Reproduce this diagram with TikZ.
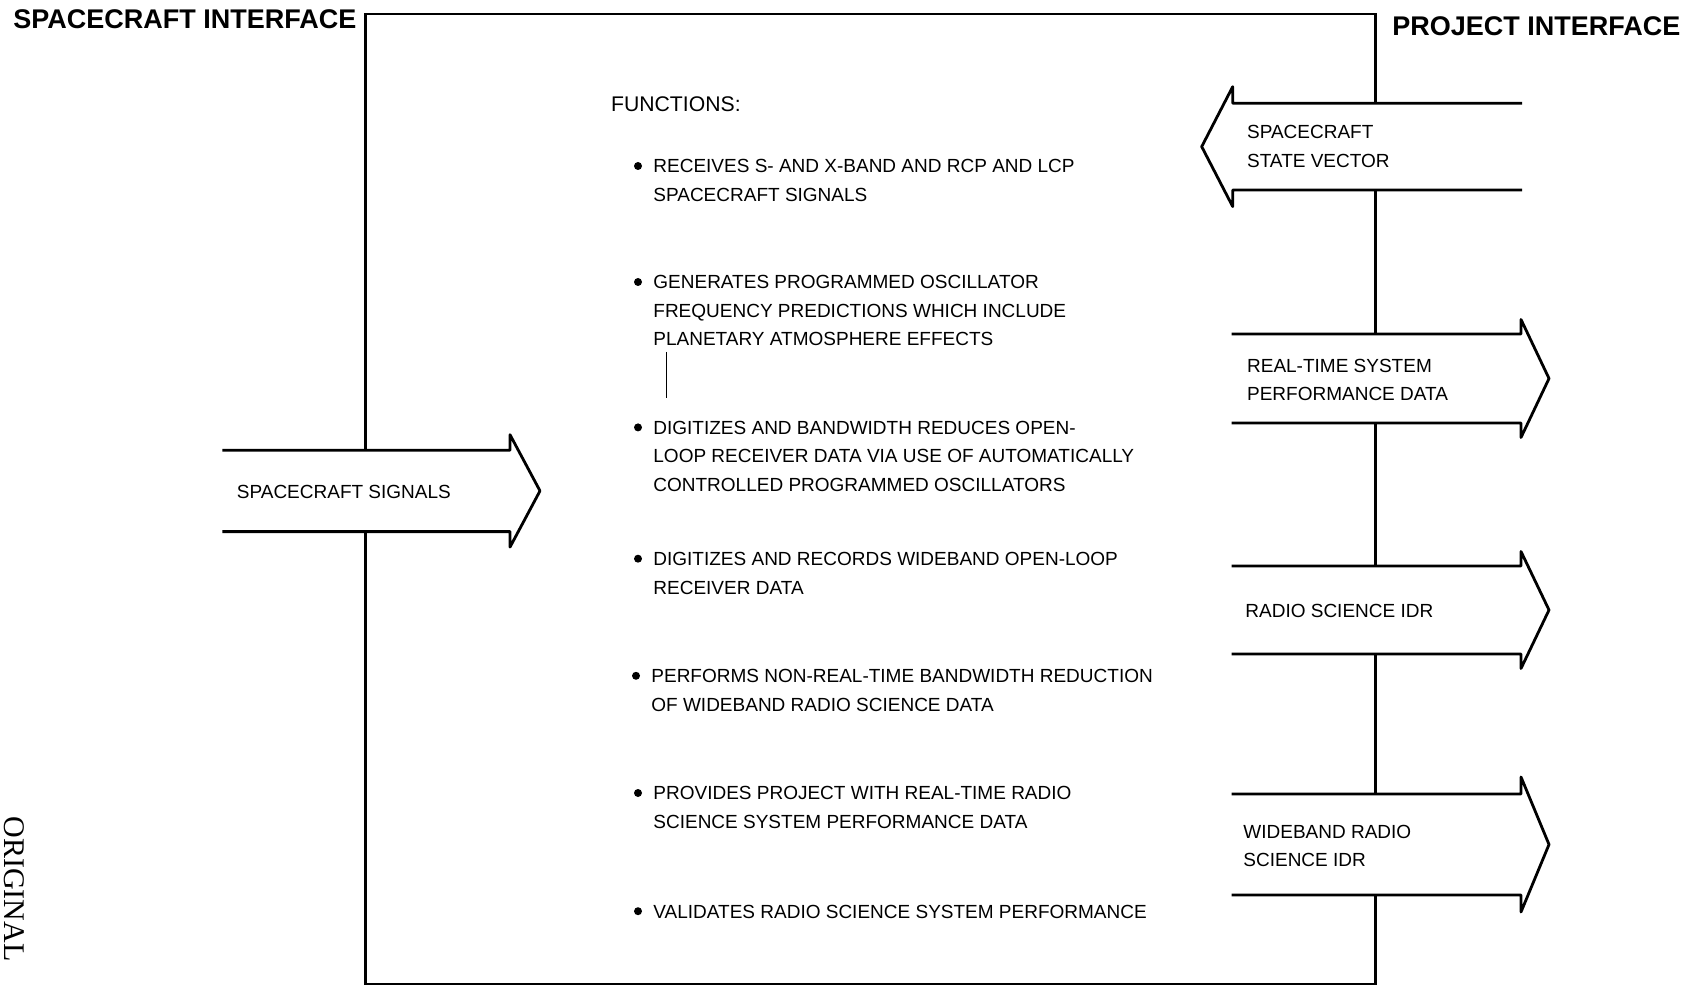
\documentclass[tikz,border=0pt]{standalone}
\usepackage{fontspec}
\setmainfont{Liberation Sans}
\newfontfamily\stampfont{Liberation Serif}
\newcommand\blockarrowR[6]{% xL, xB, xT, y1, y2, barb
  \fill[white] (#1,#4) -- (#2,#4) -- (#2,#4-#6) -- (#3,{(#4+#5)/2}) -- (#2,#5+#6) -- (#2,#5) -- (#1,#5) -- cycle;
  \draw[arrowline] (#1,#4) -- (#2,#4) -- (#2,#4-#6) -- (#3,{(#4+#5)/2}) -- (#2,#5+#6) -- (#2,#5) -- (#1,#5);}
\newcommand\blockarrowL[6]{% xR, xB, xT, y1, y2, barb
  \fill[white] (#1,#4) -- (#2,#4) -- (#2,#4-#6) -- (#3,{(#4+#5)/2}) -- (#2,#5+#6) -- (#2,#5) -- (#1,#5) -- cycle;
  \draw[arrowline] (#1,#4) -- (#2,#4) -- (#2,#4-#6) -- (#3,{(#4+#5)/2}) -- (#2,#5+#6) -- (#2,#5) -- (#1,#5);}
\begin{document}
\begin{tikzpicture}[x=0.5pt,y=-0.5pt,
  boxline/.style={line width=1.4pt},
  arrowline/.style={line width=1.4pt, line join=round},
  body/.style={font=\fontsize{9.5}{14.25}\selectfont, inner sep=0pt, align=left, anchor=north west},
  titletext/.style={font=\fontsize{13.5}{16}\selectfont\bfseries, inner sep=0pt, anchor=west},
  bullet/.style={fill=black}]
\useasboundingbox (0,0) rectangle (1701,988);
\fill[white] (0,0) rectangle (1701,988);

% main box
\draw[boxline] (365.6,14) rectangle (1375.5,984);

% block arrows
\blockarrowR{222.4}{510}{540}{450.2}{531.6}{15.5}
\blockarrowL{1522}{1232.7}{1201.7}{103.3}{190}{16.6}
\blockarrowR{1231.5}{1521}{1549}{334}{423}{14.5}
\blockarrowR{1231.5}{1521}{1549}{566}{654}{14.5}
\blockarrowR{1231.5}{1521}{1549}{794}{895}{17}

% titles
\node[titletext] (scif) at (13,19.5) {SPACECRAFT INTERFACE};
\node[titletext] (projif) at (1392,26) {PROJECT INTERFACE};

% arrow labels
\node[body] (sig) at (236.5,{491.5-6.8}) {SPACECRAFT SIGNALS};
\node[body] (sv) at (1246.7,{131.7-6.8}) {SPACECRAFT\\STATE VECTOR};
\node[body] (rt) at (1246.7,{365.5-6.8}) {REAL-TIME SYSTEM\\PERFORMANCE DATA};
\node[body] (idr) at (1245,{610.5-6.8}) {RADIO SCIENCE IDR};
\node[body] (wb) at (1243,{831.5-6.8}) {WIDEBAND RADIO\\SCIENCE IDR};

% functions
\node[body, font=\fontsize{10.6}{14}\selectfont] (fn) at (610.7,{104-7.6}) {FUNCTIONS:};

\fill[bullet] (638,166) circle (4);
\node[body] (f1) at (653,{166-6.8}) {RECEIVES S- AND X-BAND AND RCP AND LCP\\SPACECRAFT SIGNALS};
\fill[bullet] (638,282) circle (4);
\node[body] (f2) at (653,{282-6.8}) {GENERATES PROGRAMMED OSCILLATOR\\FREQUENCY PREDICTIONS WHICH INCLUDE\\PLANETARY ATMOSPHERE EFFECTS};
\draw[line width=0.5pt] (666,352) -- (666,398);
\fill[bullet] (638,427.4) circle (4);
\node[body] (f3) at (653,{427.4-6.8}) {DIGITIZES AND BANDWIDTH REDUCES OPEN-\\LOOP RECEIVER DATA VIA USE OF AUTOMATICALLY\\CONTROLLED PROGRAMMED OSCILLATORS};
\fill[bullet] (638,558.7) circle (4);
\node[body] (f4) at (653,{558.7-6.8}) {DIGITIZES AND RECORDS WIDEBAND OPEN-LOOP\\RECEIVER DATA};
\fill[bullet] (636,675.8) circle (4);
\node[body] (f5) at (651,{675.8-6.8}) {PERFORMS NON-REAL-TIME BANDWIDTH REDUCTION\\OF WIDEBAND RADIO SCIENCE DATA};
\fill[bullet] (638,793) circle (4);
\node[body] (f6) at (653,{793-6.8}) {PROVIDES PROJECT WITH REAL-TIME RADIO\\SCIENCE SYSTEM PERFORMANCE DATA};
\fill[bullet] (638,911.2) circle (4);
\node[body] (f7) at (653,{911.2-6.8}) {VALIDATES RADIO SCIENCE SYSTEM PERFORMANCE};

% stamp
\node[font=\stampfont\fontsize{15}{15}\selectfont, rotate=-90, anchor=base west, inner sep=0pt] (stamp) at (4,816) {ORIGINAL};
\end{tikzpicture}
\end{document}
